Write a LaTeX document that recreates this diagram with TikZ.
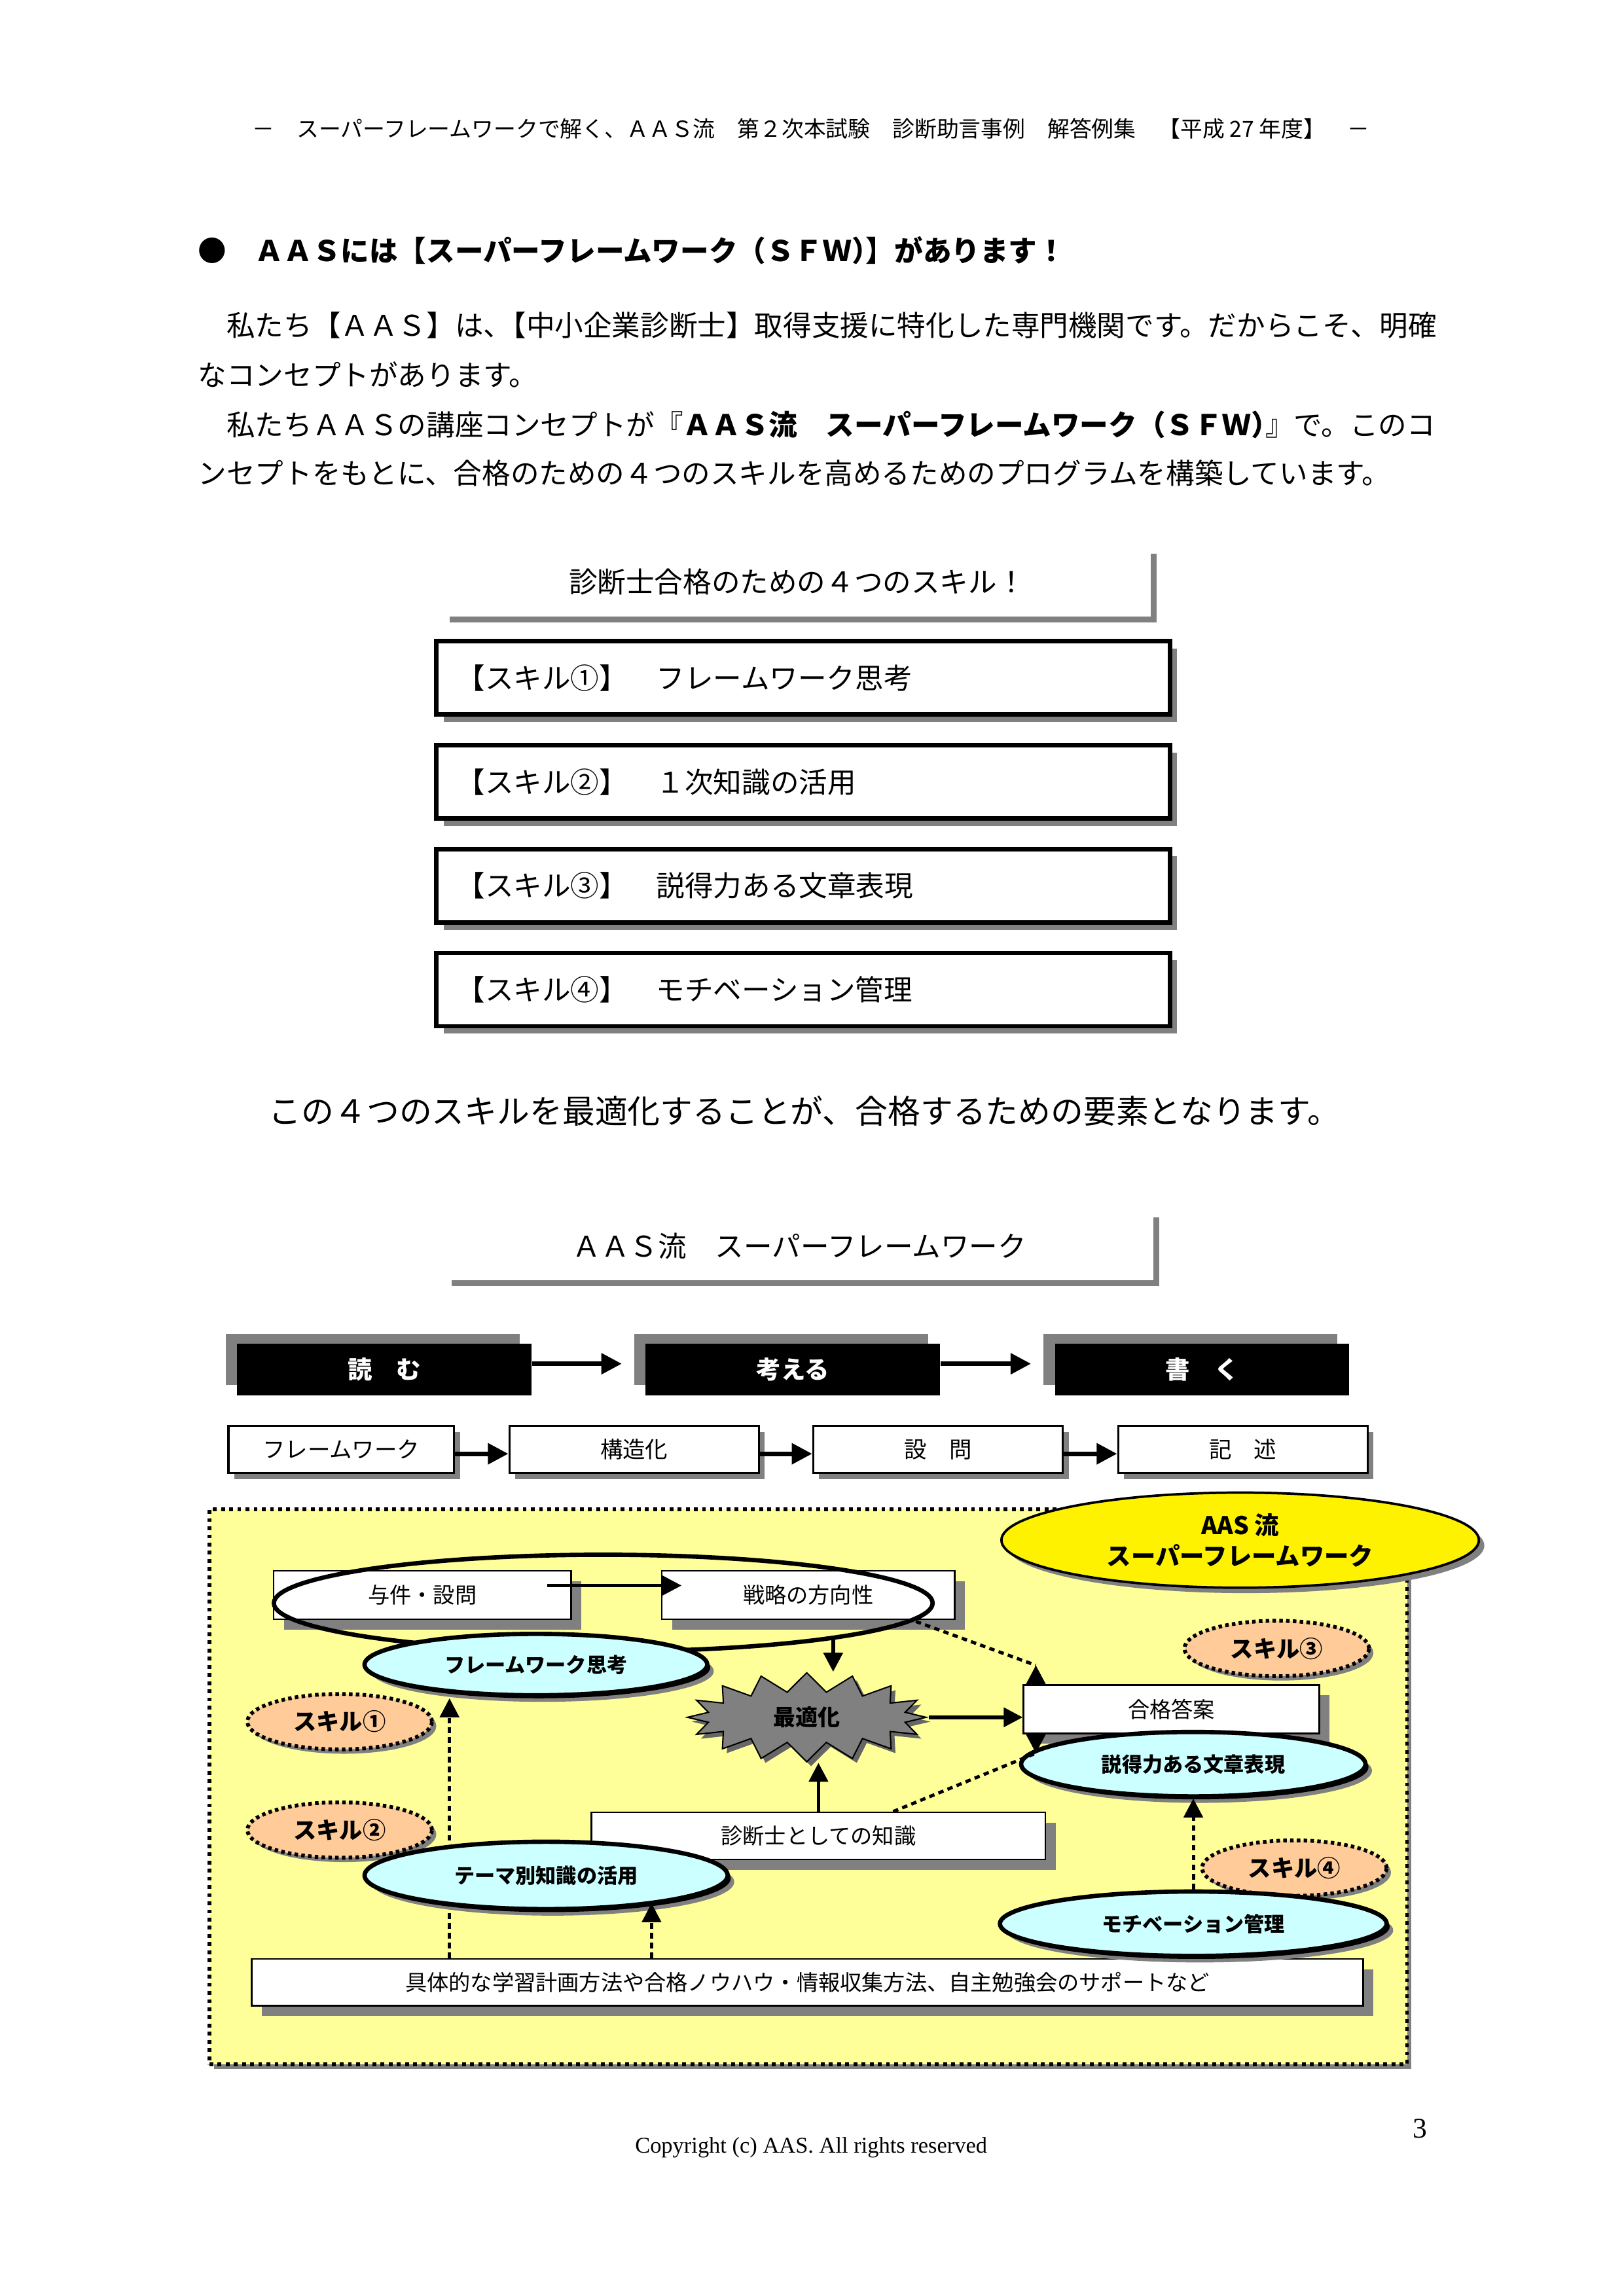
\documentclass[tikz,border=0pt]{standalone}
\usepackage{fontspec}
\setmainfont{Noto Sans CJK JP}
\newfontfamily\romanfont{Liberation Serif}
\usetikzlibrary{shapes, arrows.meta, positioning, shadows, calc}

\definecolor{shadegray}{RGB}{128,128,128}
\definecolor{areayellow}{RGB}{255,255,153}
\definecolor{paleblue}{RGB}{204,255,255}
\definecolor{peach}{RGB}{255,204,153}

\begin{document}
\begin{tikzpicture}[x=0.018938cm, y=-0.018938cm,
    every node/.style={inner sep=0pt},
    bodytext/.style={anchor=west, font=\fontsize{10.5}{12}\selectfont},
    titlebox/.style={fill=white, minimum width=260.3pt, minimum height=25.3pt,
      font=\fontsize{10.5}{12}\selectfont,
      drop shadow={shadow xshift=2.2pt, shadow yshift=-2.2pt, fill=shadegray, opacity=1}},
    skillbox/.style={draw, line width=1.6pt, fill=white, minimum width=269.9pt,
      minimum height=27pt, text width=255pt, align=left,
      font=\fontsize{10.5}{12}\selectfont,
      drop shadow={shadow xshift=2.7pt, shadow yshift=-2.7pt, fill=shadegray, opacity=1}},
    phasebox/.style={fill=black, text=white, minimum width=108.3pt, minimum height=18.9pt,
      font=\bfseries\fontsize{9}{10}\selectfont,
      drop shadow={shadow xshift=-4.3pt, shadow yshift=3.8pt, fill=shadegray, opacity=1}},
    stepbox/.style={draw, line width=0.8pt, fill=white, minimum width=91.8pt,
      minimum height=17.3pt, font=\fontsize{8.3}{10}\selectfont,
      drop shadow={shadow xshift=2.2pt, shadow yshift=-2.2pt, fill=shadegray, opacity=1}},
    itembox/.style={draw, line width=0.6pt, fill=white, minimum height=17.75pt,
      font=\fontsize{8}{10}\selectfont,
      drop shadow={shadow xshift=3.8pt, shadow yshift=-3.8pt, fill=shadegray, opacity=1}},
    skillbubble/.style={ellipse, draw, line width=1.6pt, fill=paleblue,
      font=\bfseries\fontsize{7.5}{9}\selectfont,
      drop shadow={shadow xshift=2.4pt, shadow yshift=-2.4pt, fill=shadegray, opacity=1},
      drop shadow={shadow xshift=1.1pt, shadow yshift=-1.1pt, fill=black, opacity=1}},
    skilltag/.style={ellipse, draw, line width=1.4pt, dash pattern=on 1.3pt off 1.2pt,
      fill=peach, minimum width=67.9pt, minimum height=20.4pt,
      font=\bfseries\fontsize{8.5}{10}\selectfont,
      drop shadow={shadow xshift=1.6pt, shadow yshift=-1.6pt, fill=shadegray, opacity=1}},
    flow/.style={-{Triangle[length=7.5pt, width=7.5pt]}, line width=1.6pt},
    link/.style={-{Triangle[length=7pt, width=7pt]}, line width=1.3pt},
    dotlink/.style={line width=1.2pt, dash pattern=on 2pt off 1.6pt}
  ]
  \useasboundingbox (0,0) rectangle (1108.9,1568.3);

  % page header and introduction
  \node (pagehead) at (554,88) [font=\fontsize{8.15}{10}\selectfont] {－　スーパーフレームワークで解く、ＡＡＳ流　第２次本試験　診断助言事例　解答例集　【平成 27 年度】　－};
  \node (lead) [anchor=west, font=\bfseries\fontsize{10.5}{12}\selectfont] at (135,171) {●　ＡＡＳには【スーパーフレームワーク（ＳＦＷ）\kern-.5em】があります！};
  \node (para1) [bodytext] at (135,222) {　私たち【ＡＡＳ】は、\kern-.5em【中小企業診断士】取得支援に特化した専門機関です。だからこそ、明確};
  \node (para2) [bodytext] at (135,256) {なコンセプトがあります。};
  \node (para3) [bodytext] at (135,290) {　私たちＡＡＳの講座コンセプトが『\textbf{ＡＡＳ流　スーパーフレームワーク（ＳＦＷ）}\kern-.5em』で。このコ};
  \node (para4) [bodytext] at (135,323) {ンセプトをもとに、合格のための４つのスキルを高めるためのプログラムを構築しています。};

  % four skills
  \node (skillhead) [titlebox] at (544.5,397.5) {診断士合格のための４つのスキル！};
  \node (skill1) [skillbox] at (548.5,463) {【スキル①】　フレームワーク思考};
  \node (skill2) [skillbox] at (548.5,534) {【スキル②】　１次知識の活用};
  \node (skill3) [skillbox] at (548.5,605) {【スキル③】　説得力ある文章表現};
  \node (skill4) [skillbox] at (548.5,676) {【スキル④】　モチベーション管理};
  \node (summary) at (549.5,759) [font=\fontsize{12}{14}\selectfont] {この４つのスキルを最適化することが、合格するための要素となります。};

  % super framework: phases and steps
  \node (sfwhead) [titlebox] at (546,851) {ＡＡＳ流　スーパーフレームワーク};
  \node (read) [phasebox] at (262.5,935.5) {読　む};
  \node (think) [phasebox] at (541.5,935.5) {考える};
  \node (write) [phasebox] at (821,935.5) {書　く};
  \draw[flow] ($(read.east)+(0,-4)$) -- ($(think.west)+(-16,-4)$);
  \draw[flow] ($(think.east)+(0,-4)$) -- ($(write.west)+(-16,-4)$);

  \node (fwk) [stepbox, minimum width=83pt] at (233,990) {フレームワーク};
  \node (struct) [stepbox, right=19.6pt of fwk] {構造化};
  \node (quest) [stepbox, right=19.2pt of struct] {設　問};
  \node (descr) [stepbox, right=19.6pt of quest] {記　述};
  \draw[flow] ($(fwk.east)+(0,3)$) -- ($(struct.west)+(0,3)$);
  \draw[flow] ($(struct.east)+(0,3)$) -- ($(quest.west)+(0,3)$);
  \draw[flow] ($(quest.east)+(0,3)$) -- ($(descr.west)+(0,3)$);

  % framework area
  \node (area) [draw, fill=areayellow, line width=1.3pt, dash pattern=on 1.4pt off 1.6pt,
    minimum width=440.7pt, minimum height=204.3pt,
    drop shadow={shadow xshift=1.6pt, shadow yshift=-1.6pt, fill=shadegray, opacity=1}] at (552,1220.5) {};
  \node (aas) [ellipse, draw, line width=0.9pt, fill=yellow, minimum width=175.7pt,
    minimum height=35pt, align=center, font=\bfseries\fontsize{9}{11.4}\selectfont,
    drop shadow={shadow xshift=2pt, shadow yshift=-2pt, fill=shadegray, opacity=1}] at (847,1052) {AAS 流\\スーパーフレームワーク};

  \node (yoken) [itembox, minimum width=109.4pt] at (288.5,1089.5) {与件・設問};
  \node (senryaku) [itembox, minimum width=107.7pt] at (552,1089.5) {戦略の方向性};
  \node (frame) [ellipse, draw, line width=1.6pt, minimum width=242.4pt, minimum height=35.6pt] at (412,1095) {};
  \draw[link] ($(yoken.east)+(-17,-6.5)$) -- ($(senryaku.west)+(14,-6.5)$);
  \node (fwthink) [skillbubble, minimum width=126.1pt, minimum height=22.6pt] at (366,1137) {フレームワーク思考};

  \node (gokaku) [itembox, minimum width=108.8pt] at (800,1167.5) {合格答案};
  \node (settoku) [skillbubble, minimum width=126.7pt, minimum height=23.7pt] at (815,1205) {説得力ある文章表現};
  \node (shindan) [itembox, minimum width=167pt, minimum height=17.3pt] at (559,1254) {診断士としての知識};
  \node (gutai) [itembox, minimum width=409pt, minimum height=17.3pt] at (551.5,1354) {具体的な学習計画方法や合格ノウハウ・情報収集方法、自主勉強会のサポートなど};
  \node (opt) [starburst, starburst points=16, random starburst=0, starburst point height=7pt,
    draw, line width=0.5pt, fill=shadegray, minimum width=87.8pt, minimum height=32.8pt,
    font=\bfseries\fontsize{8.2}{10}\selectfont,
    drop shadow={shadow xshift=1.6pt, shadow yshift=-1.6pt, fill=black!60, opacity=1}] at (551,1173) {最適化};

  \draw[link] (frame.-9.7) -- (frame.-9.7 |- opt.north);
  \draw[link] (opt.east) -- (opt.east -| gokaku.west);
  \draw[link] (shindan.north) -- (shindan.north |- opt.south);

  \coordinate (tipA) at ($(gokaku.north west)+(9,-13)$);
  \coordinate (tipB) at ($(gokaku.south west)+(9,13)$);
  \draw[dotlink] ($(senryaku.south east)+(-27,1)$) -- (tipA);
  \draw[dotlink] ($(shindan.north)+(51,0)$) -- (tipB);
  \draw[link] ($(gokaku.north west)+(9,0)$) -- (tipA);
  \draw[link] ($(gokaku.south west)+(9,0)$) -- (tipB);

  % skill tags
  \node (tag1) [skilltag] at (232,1176) {スキル①};
  \node (tag2) [skilltag] at (232,1250) {スキル②};
  \node (tag3) [skilltag] at (872,1126) {スキル③};
  \node (tag4) [skilltag] at (884,1276) {スキル④};

  \coordinate (fwin) at (307,1160);
  \draw[dotlink, -{Triangle[length=7pt, width=7pt]}] (gutai.north -| fwin) -- (fwin);

  \node (theme) [skillbubble, minimum width=133.6pt, minimum height=24.8pt] at (373,1281) {テーマ別知識の活用};
  \node (moti) [skillbubble, minimum width=142.3pt, minimum height=23.7pt] at (815,1314) {モチベーション管理};

  \coordinate (themein) at (445,1300);
  \draw[dotlink, -{Triangle[length=7pt, width=7pt]}] (gutai.north -| themein) -- (themein);
  \draw[dotlink, -{Triangle[length=7pt, width=7pt]}] (moti.north) -- (moti.north |- settoku.south);

  % footer
  \node (copy) at (554,1467) [font=\romanfont\fontsize{8.3}{10}\selectfont] {Copyright (c) AAS. All rights reserved};
  \node (pnum) at (970,1454) [font=\romanfont\fontsize{10.5}{12}\selectfont] {3};
\end{tikzpicture}
\end{document}
